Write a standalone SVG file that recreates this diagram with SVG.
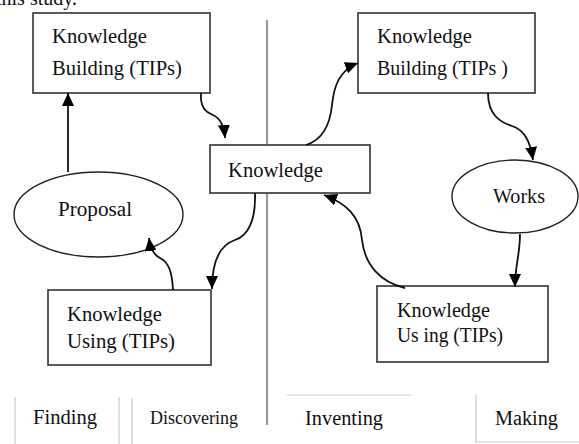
<svg xmlns="http://www.w3.org/2000/svg" width="579" height="444" viewBox="0 0 579 444">
<style>
.box{fill:#fff;stroke:#333;stroke-width:1.6}
.ell{fill:#fff;stroke:#222;stroke-width:1.4}
.t{font-family:"Liberation Serif","Times New Roman",serif;font-size:20px;fill:#111}
.conn{fill:none;stroke:#111;stroke-width:1.8}
.grid{stroke:#ccc;stroke-width:1.2;fill:none}
.div{stroke:#999;stroke-width:2.2}
</style>
<defs>
<marker id="ah" markerUnits="userSpaceOnUse" markerWidth="14" markerHeight="12" refX="13" refY="6" orient="auto">
<path d="M0,0 L13,6 L0,12 Z" fill="#000"/>
</marker>
</defs>
<text class="t" x="-4" y="5">this study.</text>
<line class="div" x1="267" y1="20" x2="267" y2="425"/>
<g id="grid">
<line class="grid" x1="15" y1="397" x2="15" y2="444"/>
<line class="grid" x1="119" y1="397" x2="119" y2="444"/>
<line class="grid" x1="132" y1="398" x2="132" y2="444"/>
<line class="grid" x1="287" y1="395" x2="411" y2="395"/>
<line class="grid" x1="476" y1="395" x2="476" y2="442"/>
<line class="grid" x1="476" y1="442" x2="579" y2="442"/>
</g>
<g id="buildingLeft">
<rect class="box" x="33" y="13" width="177" height="80"/>
<text class="t" x="52" y="43" textLength="95" lengthAdjust="spacingAndGlyphs">Knowledge</text>
<text class="t" x="52" y="75" textLength="130" lengthAdjust="spacingAndGlyphs">Building (TIPs)</text>
</g>
<g id="buildingRight">
<rect class="box" x="358" y="13" width="177" height="80"/>
<text class="t" x="377" y="43" textLength="95" lengthAdjust="spacingAndGlyphs">Knowledge</text>
<text class="t" x="377" y="75" textLength="131" lengthAdjust="spacingAndGlyphs">Building (TIPs )</text>
</g>
<g id="knowledge">
<rect class="box" x="210" y="145" width="160" height="48"/>
<text class="t" x="228" y="177" textLength="95" lengthAdjust="spacingAndGlyphs">Knowledge</text>
</g>
<g id="proposal">
<ellipse class="ell" cx="98.5" cy="214.5" rx="84.5" ry="42.5"/>
<text class="t" x="58" y="216" textLength="74" lengthAdjust="spacingAndGlyphs">Proposal</text>
</g>
<g id="works">
<ellipse class="ell" cx="515" cy="196.5" rx="63" ry="36.5"/>
<text class="t" x="493" y="203" textLength="52" lengthAdjust="spacingAndGlyphs">Works</text>
</g>
<g id="usingLeft">
<rect class="box" x="48" y="290" width="163" height="75"/>
<text class="t" x="67" y="321" textLength="95" lengthAdjust="spacingAndGlyphs">Knowledge</text>
<text class="t" x="67" y="348" textLength="108" lengthAdjust="spacingAndGlyphs">Using (TIPs)</text>
</g>
<g id="usingRight">
<rect class="box" x="377" y="286" width="171" height="76"/>
<text class="t" x="397" y="317" textLength="93" lengthAdjust="spacingAndGlyphs">Knowledge</text>
<text class="t" x="397" y="342" textLength="106" lengthAdjust="spacingAndGlyphs">Us ing (TIPs)</text>
</g>
<g id="labels">
<text class="t" x="33" y="424" textLength="64" lengthAdjust="spacingAndGlyphs">Finding</text>
<text class="t" x="150" y="424" textLength="88" lengthAdjust="spacingAndGlyphs" style="font-size:18px">Discovering</text>
<text class="t" x="305" y="425" textLength="78" lengthAdjust="spacingAndGlyphs">Inventing</text>
<text class="t" x="495" y="425" textLength="63" lengthAdjust="spacingAndGlyphs">Making</text>
</g>
<g id="connectors">
<path class="conn" marker-end="url(#ah)" d="M201,93 C200,108 206,112 213,115 C220,118 224,126 225,138"/>
<path class="conn" marker-end="url(#ah)" d="M68,172 L68,93"/>
<path class="conn" marker-end="url(#ah)" d="M306,145 C322,140 330,125 332,105 C334,85 340,70 358,63"/>
<path class="conn" marker-end="url(#ah)" d="M488,93 C488,115 500,122 512,126 C524,130 530,140 533,160"/>
<path class="conn" marker-end="url(#ah)" d="M520,234 C520,255 515,265 515,287"/>
<path class="conn" marker-end="url(#ah)" d="M405,288 C380,282 365,265 362,240 C360,215 345,203 324,195"/>
<path class="conn" marker-end="url(#ah)" d="M255,193 C256,220 248,236 235,240 C220,245 212,260 212,289"/>
<path class="conn" marker-end="url(#ah)" d="M173,290 C172,270 168,262 160,258 C152,254 150,246 149,238"/>
</g>
</svg>
